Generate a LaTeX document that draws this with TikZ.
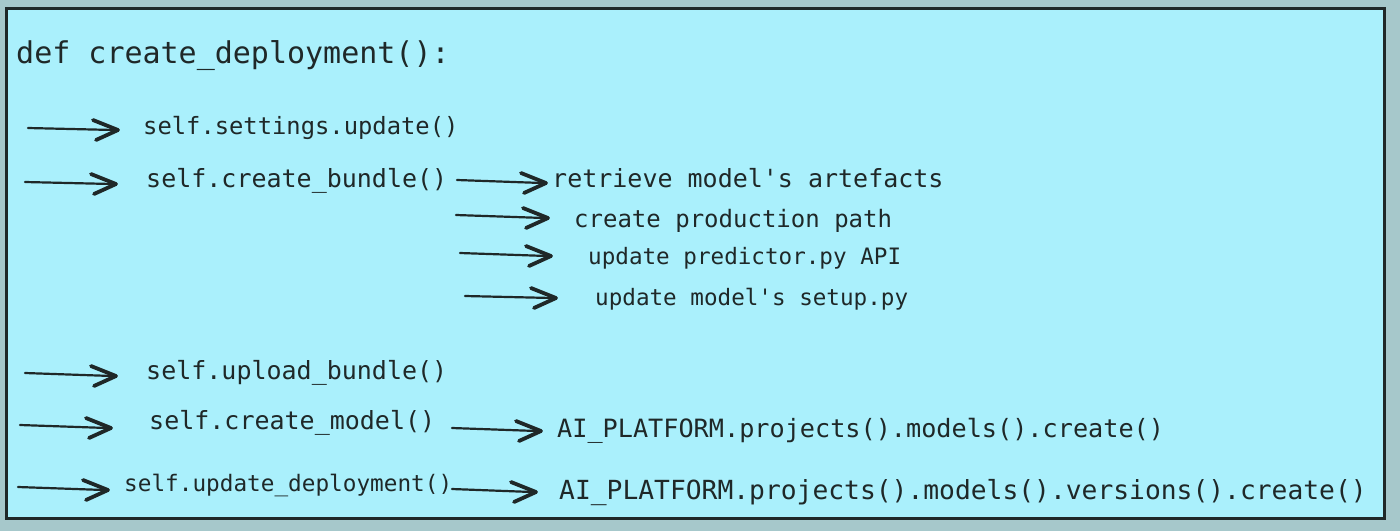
\documentclass[tikz,border=0pt]{standalone}
\usepackage{fontspec}
\setmonofont{DejaVu Sans Mono}
\definecolor{frame}{HTML}{A6C8CB}
\definecolor{panel}{HTML}{AAF0FC}
\definecolor{ink}{HTML}{1F2828}
\begin{document}
\begin{tikzpicture}[x=1pt,y=-1pt,
  code/.style={anchor=base west, inner sep=0pt, text=ink,
               font=\ttfamily\fontsize{#1}{#1}\selectfont},
  shaft/.style={draw=ink, line width=2.2pt, line cap=round},
  barb/.style={draw=ink, line width=3.8pt, line cap=round, line join=round}]

% page and panel
\fill[frame] (0,0) rectangle (1400,531);
\useasboundingbox (0,0) rectangle (1400,531);
\draw[draw=ink, fill=panel, line width=3pt] (6,8) rectangle (1384,518);

% code lines
\node[code=30]   (def)      at (16,63)   {def create\_deployment():};
\node[code=23.8] (settings) at (143,134) {self.settings.update()};
\node[code=25]   (bundle)   at (146,187) {self.create\_bundle()};
\node[code=25]   (retr)     at (552,187) {retrieve model's artefacts};
\node[code=24]   (prod)     at (574,227) {create production path};
\node[code=22.6] (pred)     at (588,264) {update predictor.py API};
\node[code=22.6] (setup)    at (595,305) {update model's setup.py};
\node[code=25]   (upload)   at (146,379) {self.upload\_bundle()};
\node[code=25]   (cmodel)   at (149,429) {self.create\_model()};
\node[code=25.2] (aicreate) at (557,437) {AI\_PLATFORM.projects().models().create()};
\node[code=22.7] (updep)    at (124,491) {self.update\_deployment()};
\node[code=26.3] (aiver)    at (559,499) {AI\_PLATFORM.projects().models().versions().create()};

% arrow ends
\coordinate (t1)  at (28,128);  \coordinate (h1)  at (118,130);
\coordinate (t2)  at (25,182);  \coordinate (h2)  at (116,184);
\coordinate (t3)  at (457,180); \coordinate (h3)  at (546,183);
\coordinate (t4)  at (456,215); \coordinate (h4)  at (548,218);
\coordinate (t5)  at (460,253); \coordinate (h5)  at (551,256);
\coordinate (t6)  at (465,296); \coordinate (h6)  at (556,298);
\coordinate (t7)  at (25,373);  \coordinate (h7)  at (116,376);
\coordinate (t8)  at (20,425);  \coordinate (h8)  at (111,428);
\coordinate (t9)  at (452,428); \coordinate (h9)  at (541,431);
\coordinate (t10) at (18,487);  \coordinate (h10) at (108,490);
\coordinate (t11) at (452,489); \coordinate (h11) at (536,492);

% hand-drawn arrows: a thin shaft and a bold ">" head
\foreach \i in {1,...,11} {
  \draw[shaft] (t\i) -- ([xshift=-4pt]h\i);
  \draw[barb] ([shift={(-25,-10)}]h\i) -- (h\i) -- ([shift={(-22,10)}]h\i);
}
\end{tikzpicture}
\end{document}
